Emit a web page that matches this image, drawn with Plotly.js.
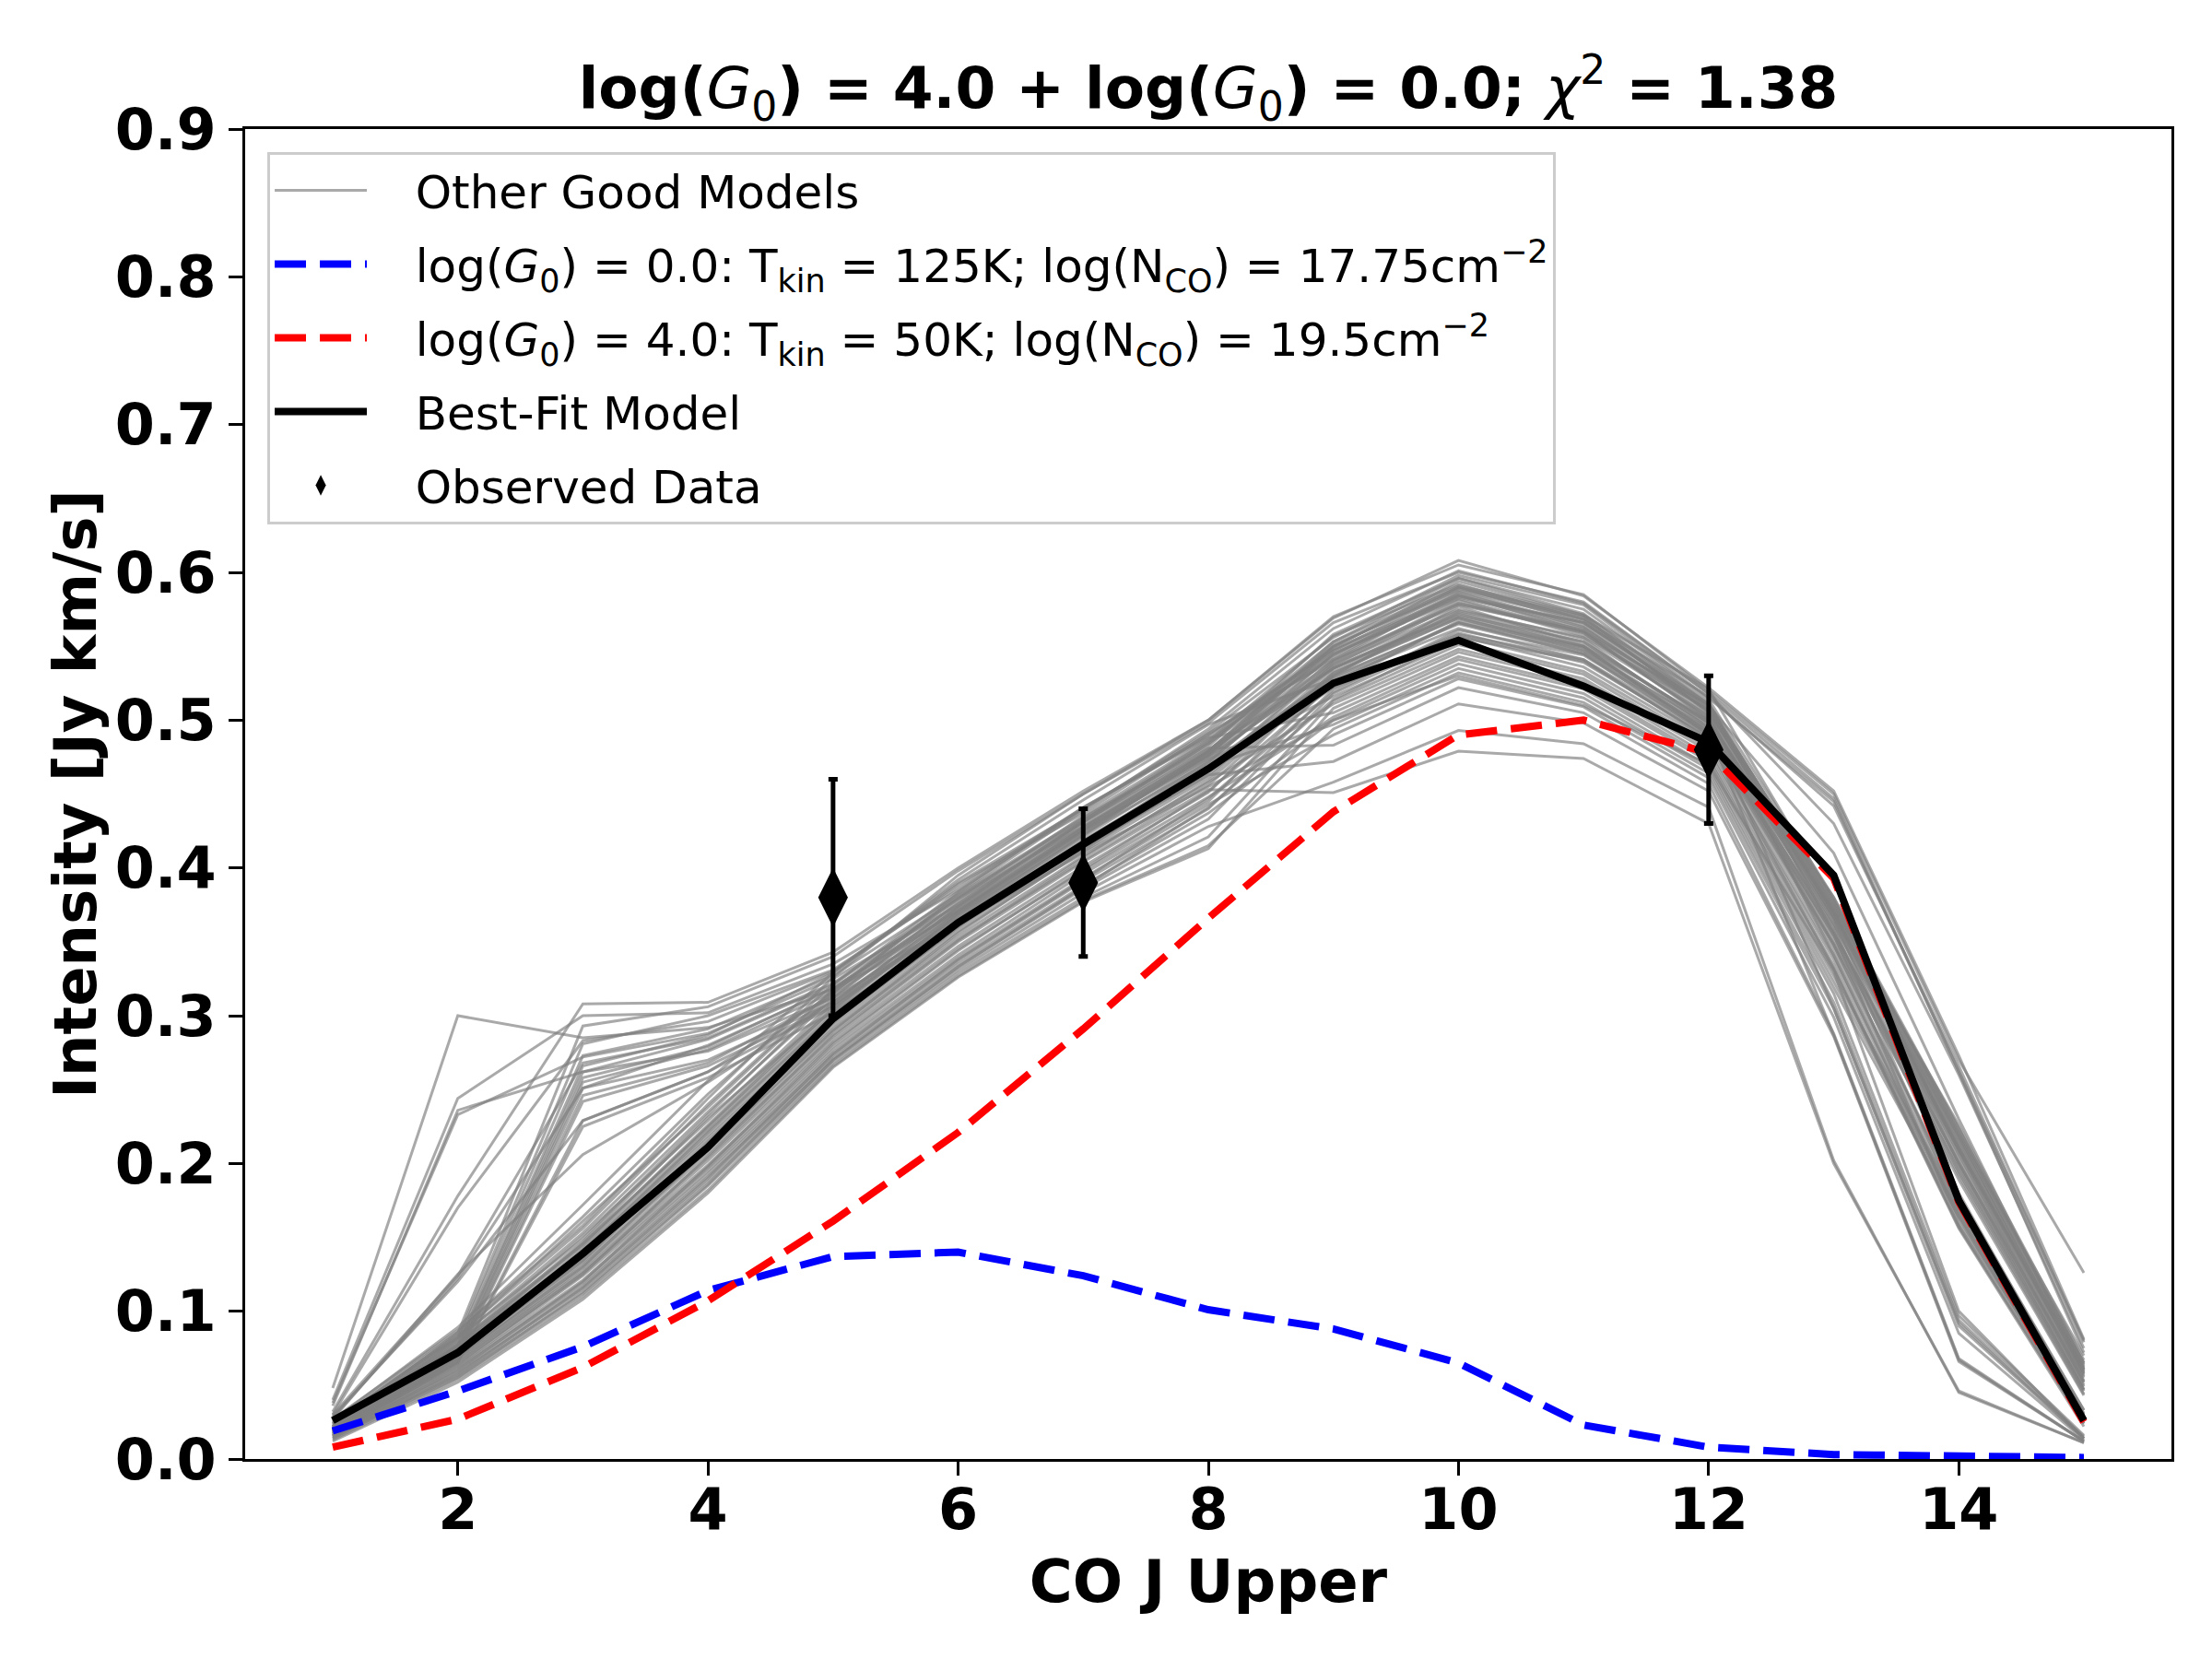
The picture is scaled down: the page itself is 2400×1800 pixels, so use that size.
<!DOCTYPE html>
<html>
<head>
<meta charset="utf-8">
<script src="https://cdn.plot.ly/plotly-3.0.1.min.js"></script>
<style>
  html, body { margin: 0; padding: 0; background: #fff; }
  #chart { width: 2400px; height: 1800px; }
</style>
</head>
<body>
<div id="chart"></div>
<script>
// CO ladder: J upper level
const jUpper = [1, 2, 3, 4, 5, 6, 7, 8, 9, 10, 11, 12, 13, 14, 15];

// best-fit two component model and its parts
const bestFit = [0.026, 0.072, 0.139, 0.211, 0.298, 0.363, 0.416, 0.467, 0.525, 0.554, 0.523, 0.485, 0.395, 0.175, 0.026];
const lowG0 = [0.019, 0.046, 0.076, 0.114, 0.137, 0.140, 0.124, 0.101, 0.088, 0.065, 0.023, 0.008, 0.003, 0.0015, 0.001];
const highG0 = [0.008, 0.027, 0.062, 0.107, 0.161, 0.221, 0.291, 0.366, 0.438, 0.490, 0.500, 0.478, 0.393, 0.174, 0.025];

// observations
const obsJ = [5, 7, 12];
const obsI = [0.38, 0.39, 0.48];
const obsErr = [0.08, 0.05, 0.05];

// other good models
const otherModels = [
  [0.048, 0.300, 0.285, 0.292, 0.318, 0.362, 0.410, 0.455, 0.500, 0.530, 0.510, 0.470, 0.330, 0.100, 0.014],
  [0.040, 0.244, 0.300, 0.302, 0.335, 0.385, 0.440, 0.490, 0.548, 0.585, 0.560, 0.510, 0.410, 0.230, 0.060],
  [0.038, 0.233, 0.272, 0.288, 0.325, 0.375, 0.430, 0.480, 0.535, 0.570, 0.550, 0.500, 0.370, 0.200, 0.055],
  [0.036, 0.236, 0.262, 0.276, 0.312, 0.362, 0.418, 0.470, 0.530, 0.565, 0.545, 0.490, 0.355, 0.160, 0.030],
  [0.032, 0.178, 0.308, 0.309, 0.343, 0.400, 0.452, 0.500, 0.570, 0.605, 0.585, 0.520, 0.450, 0.270, 0.126],
  [0.030, 0.170, 0.283, 0.296, 0.330, 0.390, 0.440, 0.492, 0.556, 0.598, 0.578, 0.515, 0.445, 0.263, 0.080],
  [0.030, 0.124, 0.268, 0.285, 0.322, 0.380, 0.432, 0.485, 0.550, 0.590, 0.570, 0.505, 0.380, 0.220, 0.070],
  [0.028, 0.122, 0.251, 0.280, 0.318, 0.374, 0.428, 0.478, 0.540, 0.578, 0.560, 0.500, 0.370, 0.210, 0.062],
  [0.027, 0.125, 0.206, 0.255, 0.310, 0.370, 0.425, 0.475, 0.535, 0.572, 0.550, 0.490, 0.360, 0.170, 0.028],
  [0.029, 0.120, 0.229, 0.262, 0.315, 0.372, 0.426, 0.476, 0.538, 0.575, 0.555, 0.495, 0.365, 0.180, 0.030],
  [0.022, 0.085, 0.293, 0.306, 0.340, 0.398, 0.450, 0.498, 0.566, 0.600, 0.580, 0.518, 0.430, 0.260, 0.075],
  [0.022, 0.082, 0.281, 0.300, 0.331, 0.387, 0.441, 0.489, 0.547, 0.584, 0.566, 0.509, 0.378, 0.223, 0.065],
  [0.021, 0.080, 0.273, 0.291, 0.327, 0.382, 0.434, 0.482, 0.558, 0.596, 0.572, 0.512, 0.356, 0.198, 0.047],
  [0.020, 0.077, 0.266, 0.287, 0.329, 0.389, 0.437, 0.491, 0.541, 0.579, 0.561, 0.504, 0.341, 0.165, 0.027],
  [0.020, 0.076, 0.262, 0.284, 0.321, 0.379, 0.428, 0.479, 0.551, 0.588, 0.568, 0.507, 0.372, 0.212, 0.058],
  [0.019, 0.074, 0.258, 0.279, 0.319, 0.371, 0.425, 0.474, 0.536, 0.571, 0.553, 0.498, 0.305, 0.092, 0.014],
  [0.019, 0.072, 0.255, 0.277, 0.316, 0.376, 0.431, 0.484, 0.545, 0.582, 0.559, 0.501, 0.366, 0.204, 0.052],
  [0.018, 0.071, 0.251, 0.270, 0.309, 0.366, 0.419, 0.468, 0.529, 0.566, 0.547, 0.493, 0.348, 0.178, 0.033],
  [0.018, 0.069, 0.246, 0.268, 0.313, 0.373, 0.427, 0.479, 0.553, 0.591, 0.571, 0.511, 0.375, 0.216, 0.061],
  [0.017, 0.068, 0.242, 0.266, 0.307, 0.364, 0.417, 0.466, 0.522, 0.558, 0.541, 0.487, 0.332, 0.157, 0.024],
  [0.017, 0.066, 0.229, 0.262, 0.306, 0.368, 0.423, 0.477, 0.544, 0.587, 0.564, 0.506, 0.369, 0.209, 0.056],
  [0.016, 0.065, 0.225, 0.258, 0.302, 0.361, 0.414, 0.463, 0.532, 0.569, 0.549, 0.492, 0.287, 0.067, 0.012],
  [0.026, 0.089, 0.172, 0.256, 0.329, 0.392, 0.446, 0.497, 0.528, 0.562, 0.541, 0.491, 0.349, 0.192, 0.044],
  [0.024, 0.086, 0.164, 0.247, 0.321, 0.384, 0.441, 0.488, 0.505, 0.543, 0.523, 0.474, 0.323, 0.168, 0.027],
  [0.025, 0.083, 0.161, 0.238, 0.317, 0.381, 0.433, 0.486, 0.557, 0.592, 0.568, 0.516, 0.442, 0.266, 0.079],
  [0.022, 0.081, 0.153, 0.235, 0.312, 0.377, 0.431, 0.481, 0.483, 0.522, 0.505, 0.457, 0.288, 0.068, 0.012],
  [0.023, 0.078, 0.151, 0.229, 0.309, 0.371, 0.427, 0.476, 0.549, 0.594, 0.571, 0.521, 0.378, 0.208, 0.053],
  [0.021, 0.077, 0.147, 0.231, 0.304, 0.368, 0.421, 0.473, 0.516, 0.553, 0.533, 0.484, 0.338, 0.163, 0.025],
  [0.024, 0.075, 0.146, 0.224, 0.303, 0.369, 0.423, 0.471, 0.545, 0.583, 0.566, 0.509, 0.373, 0.226, 0.067],
  [0.022, 0.074, 0.142, 0.222, 0.300, 0.364, 0.418, 0.469, 0.497, 0.535, 0.515, 0.467, 0.309, 0.094, 0.015],
  [0.021, 0.073, 0.141, 0.219, 0.298, 0.362, 0.416, 0.466, 0.539, 0.581, 0.557, 0.507, 0.369, 0.218, 0.063],
  [0.020, 0.072, 0.139, 0.217, 0.296, 0.359, 0.413, 0.463, 0.472, 0.511, 0.498, 0.452, 0.286, 0.066, 0.012],
  [0.020, 0.070, 0.136, 0.213, 0.293, 0.357, 0.411, 0.461, 0.535, 0.574, 0.556, 0.503, 0.366, 0.213, 0.058],
  [0.019, 0.071, 0.134, 0.214, 0.291, 0.354, 0.408, 0.458, 0.511, 0.548, 0.528, 0.479, 0.331, 0.156, 0.022],
  [0.021, 0.069, 0.133, 0.209, 0.289, 0.352, 0.405, 0.456, 0.530, 0.577, 0.551, 0.499, 0.362, 0.209, 0.061],
  [0.018, 0.068, 0.131, 0.207, 0.286, 0.350, 0.404, 0.453, 0.451, 0.479, 0.474, 0.430, 0.200, 0.046, 0.011],
  [0.019, 0.066, 0.129, 0.204, 0.284, 0.347, 0.401, 0.451, 0.533, 0.569, 0.547, 0.497, 0.356, 0.201, 0.049],
  [0.017, 0.067, 0.127, 0.202, 0.282, 0.345, 0.398, 0.448, 0.502, 0.541, 0.521, 0.472, 0.319, 0.164, 0.026],
  [0.018, 0.064, 0.126, 0.199, 0.279, 0.341, 0.396, 0.445, 0.526, 0.566, 0.545, 0.494, 0.352, 0.196, 0.047],
  [0.016, 0.063, 0.124, 0.197, 0.277, 0.339, 0.393, 0.443, 0.490, 0.528, 0.509, 0.461, 0.299, 0.085, 0.013],
  [0.017, 0.062, 0.121, 0.195, 0.275, 0.337, 0.391, 0.440, 0.521, 0.559, 0.539, 0.489, 0.345, 0.171, 0.031],
  [0.015, 0.061, 0.119, 0.193, 0.273, 0.335, 0.388, 0.437, 0.500, 0.538, 0.518, 0.469, 0.315, 0.097, 0.016],
  [0.016, 0.059, 0.117, 0.191, 0.271, 0.333, 0.386, 0.433, 0.518, 0.557, 0.536, 0.486, 0.341, 0.167, 0.028],
  [0.014, 0.058, 0.115, 0.188, 0.270, 0.331, 0.383, 0.428, 0.458, 0.493, 0.484, 0.441, 0.202, 0.045, 0.011],
  [0.015, 0.056, 0.112, 0.185, 0.268, 0.329, 0.380, 0.421, 0.513, 0.551, 0.531, 0.481, 0.334, 0.158, 0.024],
  [0.013, 0.054, 0.110, 0.182, 0.266, 0.327, 0.378, 0.415, 0.494, 0.532, 0.512, 0.464, 0.305, 0.090, 0.014],
  [0.012, 0.052, 0.108, 0.180, 0.265, 0.326, 0.377, 0.413, 0.508, 0.546, 0.526, 0.476, 0.327, 0.172, 0.029],
  [0.027, 0.087, 0.158, 0.244, 0.326, 0.395, 0.450, 0.500, 0.569, 0.608, 0.584, 0.522, 0.452, 0.273, 0.081],
  [0.025, 0.082, 0.149, 0.233, 0.315, 0.383, 0.439, 0.494, 0.562, 0.601, 0.579, 0.518, 0.447, 0.262, 0.072],
  [0.023, 0.079, 0.145, 0.226, 0.307, 0.374, 0.432, 0.484, 0.553, 0.596, 0.575, 0.514, 0.380, 0.224, 0.064],
  [0.022, 0.076, 0.140, 0.221, 0.301, 0.366, 0.422, 0.479, 0.547, 0.589, 0.569, 0.510, 0.376, 0.219, 0.060],
  [0.020, 0.073, 0.135, 0.215, 0.295, 0.360, 0.417, 0.472, 0.541, 0.586, 0.563, 0.506, 0.371, 0.211, 0.057],
  [0.019, 0.069, 0.130, 0.210, 0.290, 0.356, 0.412, 0.466, 0.537, 0.579, 0.559, 0.502, 0.367, 0.206, 0.052],
  [0.018, 0.065, 0.125, 0.205, 0.287, 0.351, 0.407, 0.459, 0.531, 0.573, 0.553, 0.498, 0.362, 0.200, 0.050],
  [0.016, 0.060, 0.120, 0.198, 0.281, 0.344, 0.399, 0.452, 0.524, 0.567, 0.549, 0.495, 0.358, 0.194, 0.046],
  [0.015, 0.057, 0.116, 0.190, 0.274, 0.338, 0.392, 0.447, 0.519, 0.561, 0.544, 0.492, 0.354, 0.189, 0.043],
  [0.014, 0.055, 0.113, 0.186, 0.270, 0.333, 0.387, 0.441, 0.514, 0.556, 0.540, 0.488, 0.348, 0.176, 0.033],
  [0.024, 0.084, 0.156, 0.240, 0.318, 0.379, 0.435, 0.487, 0.543, 0.584, 0.562, 0.507, 0.370, 0.216, 0.059],
  [0.021, 0.077, 0.144, 0.225, 0.305, 0.370, 0.425, 0.477, 0.550, 0.590, 0.566, 0.511, 0.374, 0.221, 0.065]
];

const FONT = 'DejaVu Sans, Liberation Sans, sans-serif';
const nrm = s => '<span style="font-weight:normal">' + s + '</span>';
const pad = '&nbsp;&nbsp;&nbsp;';

const traces = otherModels.map((y, i) => ({
  x: jUpper, y: y,
  type: 'scatter', mode: 'lines',
  name: pad + 'Other Good Models',
  legendgroup: 'other',
  showlegend: i === 0,
  line: { color: 'rgba(128,128,128,0.68)', width: 3 },
  hoverinfo: 'skip'
}));

traces.push({
  x: jUpper, y: lowG0,
  type: 'scatter', mode: 'lines',
  name: pad + 'log(<i>G</i><sub>0</sub>) = 0.0: T<sub>kin</sub> = 125K; log(N<sub>CO</sub>) = 17.75cm<sup>−2</sup>',
  legendgroup: 'low',
  line: { color: '#0000ff', width: 8, dash: '34px,15px' }
});
traces.push({
  x: jUpper, y: highG0,
  type: 'scatter', mode: 'lines',
  name: pad + 'log(<i>G</i><sub>0</sub>) = 4.0: T<sub>kin</sub> = 50K; log(N<sub>CO</sub>) = 19.5cm<sup>−2</sup>',
  legendgroup: 'high',
  line: { color: '#ff0000', width: 8, dash: '34px,15px' }
});
traces.push({
  x: jUpper, y: bestFit,
  type: 'scatter', mode: 'lines',
  name: pad + 'Best-Fit Model',
  legendgroup: 'best',
  line: { color: '#000000', width: 8 }
});
traces.push({
  x: obsJ, y: obsI,
  type: 'scatter', mode: 'markers',
  name: pad + 'Observed Data',
  legendgroup: 'obs',
  marker: { symbol: 'diamond-tall', size: 46, color: '#000000' },
  error_y: { type: 'data', array: obsErr, visible: true, color: '#000000', thickness: 5, width: 5 }
});

const axisCommon = {
  showline: true, mirror: true, linecolor: '#000', linewidth: 3,
  showgrid: false, zeroline: false,
  ticks: 'outside', ticklen: 15, tickwidth: 3, tickcolor: '#000',
  tickfont: { family: FONT, size: 62, color: '#000', weight: 'bold' }
};

const layout = {
  width: 2400, height: 1800,
  margin: { l: 266, r: 44, t: 140, b: 217 },
  paper_bgcolor: '#fff', plot_bgcolor: '#fff',
  hovermode: false,
  title: {
    text: 'log(' + nrm('<i>G</i><sub>0</sub>') + ') = 4.0 + log(' + nrm('<i>G</i><sub>0</sub>') + ') = 0.0; ' + nrm('<i>χ</i><sup>2</sup>') + ' = 1.38',
    font: { family: FONT, size: 63, color: '#000', weight: 'bold' },
    x: 0.5, xanchor: 'center', xref: 'paper',
    y: 0.947, yanchor: 'middle', yref: 'container'
  },
  xaxis: Object.assign({}, axisCommon, {
    range: [0.3, 15.7],
    tickvals: [2, 4, 6, 8, 10, 12, 14],
    ticklabelstandoff: -16,
    title: { text: 'CO J Upper', font: { family: FONT, size: 64, color: '#000', weight: 'bold' }, standoff: 20 }
  }),
  yaxis: Object.assign({}, axisCommon, {
    range: [0, 0.9],
    dtick: 0.1, tick0: 0,
    tickformat: '.1f',
    ticklabelstandoff: 1,
    title: { text: 'Intensity [Jy km/s]', font: { family: FONT, size: 64, color: '#000', weight: 'bold' }, standoff: 0 }
  }),
  legend: {
    x: 0.0115, y: 0.983, xanchor: 'left', yanchor: 'top',
    bgcolor: 'rgba(255,255,255,0.8)',
    bordercolor: '#cccccc', borderwidth: 3,
    font: { family: FONT, size: 50, color: '#000' },
    traceorder: 'grouped',
    tracegroupgap: 12,
    itemwidth: 100
  },
  showlegend: true
};

Plotly.newPlot('chart', traces, layout, { staticPlot: true });
</script>
</body>
</html>
